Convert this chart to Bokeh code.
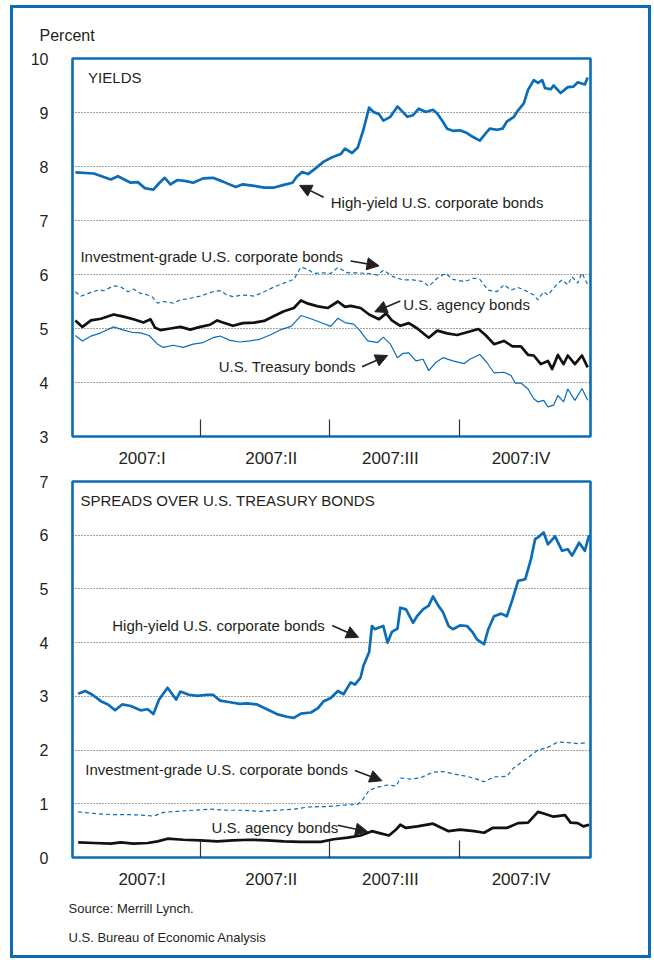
from bokeh.plotting import figure
from bokeh.layouts import column
from bokeh.models import Range1d, FixedTicker, Label, Arrow, NormalHead, Title
from bokeh.embed import file_html
from bokeh.resources import INLINE

BLUE = "#0b6cb8"
INK = "#231f20"
SANS = "Liberation Sans"

# ---- axes / ticks ----
QUARTER_LABELS = ["2007:I", "2007:II", "2007:III", "2007:IV"]
QUARTER_LABEL_DAY = [49, 140, 224, 316]     # day of year where each quarter label sits
QUARTER_BOUNDS = [90, 181, 273]             # quarter boundaries (day of year)
YIELD_TICKS = [3, 4, 5, 6, 7, 8, 9, 10]
SPREAD_TICKS = [0, 1, 2, 3, 4, 5, 6, 7]

# ---- YIELDS panel (day of year, percent) ----
HY_YIELD = [
    (2, 7.89), (15, 7.87), (27, 7.76), (32, 7.82), (41, 7.70), (46, 7.71), (51, 7.60), (57, 7.57),
    (61, 7.69), (65, 7.79), (69, 7.67), (74, 7.75), (80, 7.73), (85, 7.70), (92, 7.78), (99, 7.79),
    (106, 7.72), (115, 7.62), (120, 7.67), (128, 7.64), (135, 7.61), (142, 7.61), (149, 7.66),
    (155, 7.70), (158, 7.81), (162, 7.90), (166, 7.86), (171, 7.96), (177, 8.09), (183, 8.17),
    (189, 8.23), (192, 8.33), (197, 8.25), (201, 8.35), (205, 8.68), (209, 9.09), (212, 9.01),
    (216, 8.97), (219, 8.85), (224, 8.92), (229, 9.11), (232, 9.03), (236, 8.92), (240, 8.95),
    (244, 9.07), (249, 9.01), (254, 9.05), (257, 8.98), (261, 8.83), (264, 8.70), (268, 8.66),
    (273, 8.67), (278, 8.62), (282, 8.55), (287, 8.48), (291, 8.61), (294, 8.70), (299, 8.68),
    (303, 8.70), (306, 8.83), (311, 8.92), (314, 9.04), (318, 9.17), (321, 9.42), (325, 9.60),
    (328, 9.55), (331, 9.60), (333, 9.45), (337, 9.43), (339, 9.50), (344, 9.36), (349, 9.47),
    (353, 9.48), (356, 9.56), (361, 9.52), (363, 9.65),
]
IG_YIELD = [
    (2, 5.68), (6, 5.60), (11, 5.65), (18, 5.71), (22, 5.70), (29, 5.79), (34, 5.77), (39, 5.68),
    (43, 5.73), (48, 5.65), (53, 5.62), (56, 5.59), (60, 5.47), (64, 5.50), (71, 5.47), (76, 5.53),
    (83, 5.56), (90, 5.60), (99, 5.68), (104, 5.70), (109, 5.62), (113, 5.59), (120, 5.62),
    (128, 5.60), (135, 5.68), (142, 5.77), (149, 5.84), (156, 5.91), (161, 6.14), (166, 6.09),
    (170, 6.02), (177, 6.03), (182, 6.02), (187, 6.13), (194, 6.03), (201, 6.03), (208, 6.02),
    (215, 5.99), (219, 6.08), (226, 5.96), (233, 5.90), (240, 5.90), (247, 5.87), (251, 5.78),
    (257, 5.93), (263, 6.02), (268, 5.91), (276, 5.87), (283, 5.93), (287, 5.91), (293, 5.71),
    (299, 5.68), (304, 5.81), (309, 5.71), (314, 5.76), (321, 5.68), (325, 5.62), (328, 5.53),
    (332, 5.68), (335, 5.62), (342, 5.84), (345, 5.90), (349, 5.81), (352, 5.96), (356, 5.84),
    (359, 6.03), (363, 5.81),
]
AGENCY_YIELD = [
    (2, 5.15), (7, 5.03), (13, 5.15), (20, 5.18), (29, 5.26), (36, 5.22), (43, 5.17), (50, 5.11),
    (55, 5.17), (58, 5.02), (62, 4.97), (69, 5.00), (76, 5.03), (83, 4.98), (90, 5.03), (97, 5.07),
    (102, 5.15), (106, 5.11), (113, 5.05), (120, 5.10), (128, 5.11), (135, 5.14), (142, 5.23),
    (149, 5.32), (156, 5.38), (161, 5.52), (166, 5.46), (173, 5.41), (180, 5.38), (187, 5.50),
    (192, 5.40), (196, 5.42), (203, 5.38), (209, 5.26), (216, 5.17), (221, 5.28), (225, 5.15),
    (231, 5.05), (237, 5.10), (243, 5.00), (251, 4.83), (257, 4.96), (264, 4.91), (271, 4.88),
    (278, 4.93), (286, 4.99), (291, 4.88), (297, 4.71), (304, 4.77), (310, 4.67), (316, 4.67),
    (321, 4.51), (325, 4.50), (330, 4.34), (335, 4.40), (338, 4.25), (342, 4.51), (346, 4.34),
    (349, 4.50), (354, 4.34), (359, 4.50), (363, 4.28),
]
TREASURY_YIELD = [
    (2, 4.87), (7, 4.77), (13, 4.86), (20, 4.92), (29, 5.03), (36, 4.97), (42, 4.93), (48, 4.92),
    (54, 4.87), (60, 4.71), (64, 4.65), (71, 4.69), (78, 4.65), (85, 4.71), (92, 4.74), (99, 4.83),
    (104, 4.86), (111, 4.78), (118, 4.75), (125, 4.77), (132, 4.80), (140, 4.89), (147, 4.98),
    (154, 5.04), (161, 5.24), (168, 5.18), (175, 5.11), (182, 5.04), (187, 5.19), (192, 5.11),
    (198, 5.08), (202, 4.98), (208, 4.77), (215, 4.74), (219, 4.84), (224, 4.71), (229, 4.46),
    (233, 4.54), (237, 4.55), (242, 4.40), (247, 4.43), (251, 4.22), (256, 4.37), (261, 4.46),
    (268, 4.40), (276, 4.35), (280, 4.43), (287, 4.52), (292, 4.37), (297, 4.18), (304, 4.19),
    (309, 4.13), (312, 3.99), (316, 3.99), (321, 3.88), (325, 3.70), (328, 3.64), (332, 3.67),
    (335, 3.55), (339, 3.58), (342, 3.76), (346, 3.64), (349, 3.88), (354, 3.67), (359, 3.89),
    (363, 3.67),
]

# ---- SPREADS panel (day of year, percentage points) ----
HY_SPREAD = [
    (4, 3.05), (9, 3.10), (14, 3.03), (20, 2.91), (25, 2.85), (30, 2.74), (35, 2.85), (41, 2.82),
    (48, 2.74), (53, 2.76), (57, 2.67), (61, 2.94), (67, 3.16), (73, 2.94), (76, 3.09), (82, 3.03),
    (88, 3.01), (95, 3.03), (99, 3.03), (104, 2.92), (111, 2.89), (118, 2.86), (123, 2.87),
    (130, 2.85), (137, 2.76), (144, 2.67), (151, 2.62), (156, 2.60), (161, 2.68), (168, 2.70),
    (173, 2.78), (177, 2.91), (182, 2.97), (187, 3.10), (191, 3.04), (196, 3.26), (199, 3.22),
    (203, 3.35), (205, 3.57), (209, 3.82), (211, 4.31), (213, 4.25), (216, 4.28), (219, 4.31),
    (222, 4.00), (225, 4.20), (229, 4.26), (231, 4.65), (235, 4.62), (240, 4.37), (243, 4.50),
    (247, 4.62), (251, 4.69), (254, 4.86), (258, 4.68), (261, 4.57), (265, 4.31), (268, 4.25),
    (273, 4.32), (278, 4.31), (282, 4.19), (285, 4.06), (290, 3.97), (293, 4.25), (297, 4.49),
    (302, 4.54), (306, 4.49), (310, 4.80), (314, 5.15), (319, 5.18), (323, 5.55), (326, 5.93),
    (328, 5.96), (332, 6.05), (335, 5.83), (340, 5.98), (345, 5.71), (349, 5.74), (352, 5.62),
    (357, 5.86), (361, 5.71), (364, 6.00),
]
IG_SPREAD = [
    (4, 0.85), (15, 0.82), (27, 0.80), (39, 0.80), (48, 0.79), (57, 0.77), (64, 0.84), (74, 0.86),
    (85, 0.88), (97, 0.90), (109, 0.88), (120, 0.88), (132, 0.86), (144, 0.88), (156, 0.90),
    (166, 0.94), (180, 0.95), (194, 0.98), (201, 0.99), (204, 1.06), (209, 1.25), (215, 1.31),
    (222, 1.35), (228, 1.33), (231, 1.48), (238, 1.46), (245, 1.48), (254, 1.59), (261, 1.60),
    (268, 1.56), (278, 1.51), (285, 1.46), (290, 1.41), (297, 1.50), (306, 1.51), (311, 1.67),
    (321, 1.86), (328, 2.00), (335, 2.05), (342, 2.15), (349, 2.14), (356, 2.12), (363, 2.14),
]
AGENCY_SPREAD = [
    (4, 0.28), (15, 0.27), (27, 0.26), (34, 0.28), (43, 0.26), (53, 0.27), (60, 0.30), (67, 0.35),
    (78, 0.33), (90, 0.32), (102, 0.30), (113, 0.32), (125, 0.33), (137, 0.32), (149, 0.30),
    (161, 0.29), (175, 0.29), (184, 0.34), (194, 0.37), (203, 0.41), (211, 0.49), (217, 0.45),
    (223, 0.41), (228, 0.52), (231, 0.61), (235, 0.55), (243, 0.58), (254, 0.63), (265, 0.49),
    (273, 0.52), (283, 0.49), (290, 0.46), (296, 0.55), (306, 0.55), (314, 0.64), (321, 0.65),
    (328, 0.85), (332, 0.82), (339, 0.76), (347, 0.79), (351, 0.65), (356, 0.64), (360, 0.58),
    (364, 0.61),
]


def xy(series):
    return [d for d, _ in series], [v for _, v in series]


def make_fig(height, ticks, top, bottom):
    p = figure(width=635, height=height, x_range=Range1d(0, 365),
               y_range=Range1d(ticks[0], ticks[-1]), output_backend="svg",
               toolbar_location=None, min_border_left=59, min_border_right=58,
               min_border_top=top, min_border_bottom=bottom)
    p.background_fill_color = "white"
    p.border_fill_color = "white"
    p.outline_line_color = BLUE
    p.outline_line_width = 2.6
    p.xgrid.visible = False
    yt = FixedTicker(ticks=ticks)
    p.yaxis.ticker = yt
    p.ygrid.ticker = yt
    p.ygrid.grid_line_color = "#444444"
    p.ygrid.grid_line_dash = "1 2"
    p.ygrid.grid_line_width = 1
    p.yaxis.axis_line_color = None
    p.yaxis.major_tick_line_color = None
    p.yaxis.minor_tick_line_color = None
    p.yaxis.major_label_standoff = 18
    p.yaxis.major_label_text_font = SANS
    p.yaxis.major_label_text_font_size = "16px"
    p.yaxis.major_label_text_color = INK

    xt = FixedTicker(ticks=QUARTER_LABEL_DAY, minor_ticks=QUARTER_BOUNDS)
    p.xaxis.ticker = xt
    p.xaxis.major_label_overrides = {d: s for d, s in zip(QUARTER_LABEL_DAY, QUARTER_LABELS)}
    p.xaxis.axis_line_color = None
    p.xaxis.major_tick_line_color = None
    p.xaxis.minor_tick_in = 17
    p.xaxis.minor_tick_out = 0
    p.xaxis.minor_tick_line_color = "#333333"
    p.xaxis.minor_tick_line_width = 1.2
    p.xaxis.major_label_standoff = 6
    p.xaxis.major_label_text_font = SANS
    p.xaxis.major_label_text_font_size = "17px"
    p.xaxis.major_label_text_color = INK
    return p


def label(p, x, y, text, size="15px"):
    p.add_layout(Label(x=x, y=y, text=text, text_font=SANS, text_font_size=size,
                       text_color=INK, text_baseline="middle", text_align="left"))


def arrow(p, x0, y0, x1, y1):
    p.add_layout(Arrow(end=NormalHead(size=12, fill_color=INK, line_color=INK, line_width=1),
                       x_start=x0, y_start=y0, x_end=x1, y_end=y1,
                       line_color=INK, line_width=1.6))


def side_title(p, text, place, size, offset, standoff):
    p.add_layout(Title(text=text, align="left", offset=offset, standoff=standoff,
                       text_font=SANS, text_font_size=size, text_font_style="normal",
                       text_color=INK), place)


# ---------------- YIELDS ----------------
p1 = make_fig(462, YIELD_TICKS, 50, 33)
x, y = xy(IG_YIELD)
p1.line(x, y, line_color=BLUE, line_width=1.2, line_dash="4 3")
x, y = xy(TREASURY_YIELD)
p1.line(x, y, line_color=BLUE, line_width=1.2)
x, y = xy(AGENCY_YIELD)
p1.line(x, y, line_color="#111111", line_width=2.7, line_join="round")
x, y = xy(HY_YIELD)
p1.line(x, y, line_color=BLUE, line_width=2.7, line_join="round")

side_title(p1, "Percent", "above", "16px", -33, 29)
label(p1, 11, 9.65, "YIELDS")
label(p1, 182, 7.34, "High-yield U.S. corporate bonds")
arrow(p1, 177, 7.43, 160, 7.65)
label(p1, 5.6, 6.34, "Investment-grade U.S. corporate bonds")
arrow(p1, 196, 6.25, 216, 6.16)
label(p1, 233, 5.44, "U.S. agency bonds")
arrow(p1, 231, 5.51, 213, 5.31)
label(p1, 103, 4.29, "U.S. Treasury bonds")
arrow(p1, 204, 4.29, 222, 4.50)

# ---------------- SPREADS ----------------
p2 = make_fig(485, SPREAD_TICKS, 11, 98)
x, y = xy(IG_SPREAD)
p2.line(x, y, line_color=BLUE, line_width=1.2, line_dash="4 3")
x, y = xy(AGENCY_SPREAD)
p2.line(x, y, line_color="#111111", line_width=2.7, line_join="round")
x, y = xy(HY_SPREAD)
p2.line(x, y, line_color=BLUE, line_width=2.7, line_join="round")

label(p2, 5.6, 6.65, "SPREADS OVER U.S. TREASURY BONDS")
label(p2, 28, 4.32, "High-yield U.S. corporate bonds")
arrow(p2, 183, 4.32, 201.5, 4.10)
label(p2, 9, 1.64, "Investment-grade U.S. corporate bonds")
arrow(p2, 199, 1.62, 218, 1.43)
label(p2, 98, 0.56, "U.S. agency bonds")
arrow(p2, 187, 0.60, 208, 0.48)
side_title(p2, "Source: Merrill Lynch.", "below", "13px", -4, 14)
side_title(p2, "U.S. Bureau of Economic Analysis", "below", "13px", -4, 10)

layout = column(p1, p2, spacing=0,
                styles={"border": f"3px solid {BLUE}", "margin-left": "10px", "margin-top": "5px"})

open("out.html", "w").write(file_html(layout, INLINE))
